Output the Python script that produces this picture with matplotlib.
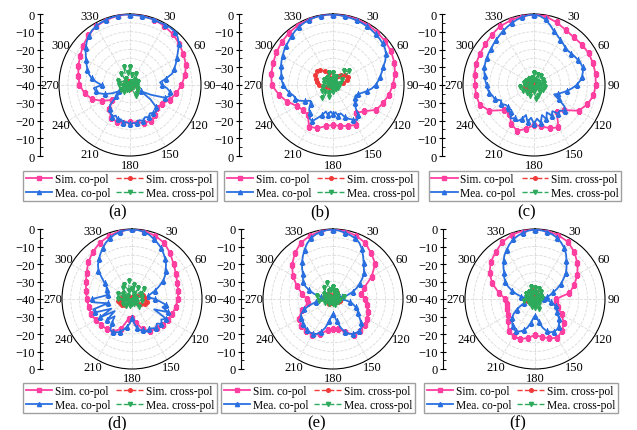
import matplotlib
matplotlib.use("Agg")
import matplotlib.pyplot as plt
import numpy as np
from matplotlib.lines import Line2D
from matplotlib.ticker import FixedLocator, FuncFormatter

plt.rcParams["font.family"] = ["Liberation Serif", "DejaVu Serif"]

# angles (deg) of the sampled points
ANG_10 = list(range(0, 360, 10))
ANG_5 = list(range(0, 360, 5))

# ---- panel (a) ----
SIM_CO_A = [0, -0.3, -0.8, -1.5, -2.5, -3.8, -5.2, -6.5, -8.5, -11, -13.5, -16, -19, -20, -18, -16.5, -17.5, -18.5,
            -19, -18.5, -18, -18.5, -22, -27, -22, -17, -14, -11.5, -10.5, -9, -7.5, -5.5, -3.5, -1.8, -1, -0.3]
MEA_CO_A = [-0.3, -0.6, -0.4, -0.9, -0.6, -1.0, -0.7, -0.5, -0.8, -2.0, -4.0, -7.0, -9.5, -11.5, -13.5, -15.5, -19.5, -23,
            -22, -19, -17, -16.5, -19, -27, -33, -26, -21, -19, -19.5, -20.5, -19, -20, -18.5, -19.5, -18, -18.5,
            -18, -19, -18.5, -20, -19.5, -21, -19.5, -21, -22.5, -24, -30, -36, -33, -29, -25, -22, -20.5, -19.5,
            -24, -21, -18, -16, -14.5, -13, -11.5, -9.5, -7.5, -5.5, -4, -2.5, -1.8, -1.2, -0.8, -0.5, -0.3, -0.2]
SIM_X_A = [-38, -38.5, -39, -39.5, -40, -40, -39.5, -39, -38.5, -38, -38.5, -39, -39.5, -40, -40, -39.5, -39, -38.5,
           -38, -38.5, -39, -39.5, -40, -40, -39.5, -39, -38.5, -38, -37.5, -37, -37.5, -38, -38.5, -38, -37.5, -38]
MEA_X_A = [-30, -34, -38, -33, -39, -36, -38.5, -35, -39, -38, -36, -39, -35, -38, -34, -33, -38, -39,
           -38.5, -37, -39, -37, -35, -38, -34, -39, -36, -34, -38, -33, -37, -39, -32, -36, -29.5, -33]

# ---- panel (b) ----
SIM_CO_B = [0, -0.2, -0.5, -0.8, -1.2, -1.6, -2.2, -3.2, -4.5, -6.3, -8, -10, -12, -17, -19.5, -14, -15.5, -16.5,
            -17.5, -16.5, -14, -13, -18, -18, -16.5, -12.5, -9, -5.5, -4.7, -4, -3.2, -2.3, -1.5, -0.9, -0.5, -0.2]
MEA_CO_B = [-0.3, -0.5, -0.8, -1.0, -1.2, -1.5, -1.8, -2.2, -2.6, -3.0, -3.5, -4.2, -5.5, -7.5, -9.8, -11.5, -13, -14.5,
            -16, -18, -20.5, -23, -25, -26, -25.5, -24.5, -24, -22, -18, -16, -17.5, -19, -21, -23.5, -22.5, -24.5,
            -23.5, -25, -23, -24.5, -22, -19.5, -16.5, -17, -19.5, -21, -23.5, -24.5, -22, -19, -17.5, -17, -15, -13.5,
            -12, -11, -10.5, -9.8, -8.8, -8.0, -7.2, -6.3, -5.5, -4.8, -3.8, -2.8, -2.0, -1.4, -0.9, -0.6, -0.4, -0.3]
SIM_X_B = [-39, -37, -35, -34, -33, -31, -30.5, -31.5, -34, -37, -39, -40, -40, -40, -40, -39.5, -39, -38.5,
           -39, -39.5, -40, -40, -39.5, -38.5, -37.5, -36, -34, -32, -31, -30, -28.5, -28, -29, -31, -33, -36]
MEA_X_B = [-33, -36, -35, -38, -30, -28, -34, -38, -36, -39, -37, -38.5, -37, -39, -37, -38, -38, -39,
           -36, -38, -33, -35, -30.5, -34, -33, -38, -34, -39, -35, -38, -34, -38, -35, -37, -33, -38]

# ---- panel (c) ----
SIM_CO_C = [0, -0.8, -2.5, -4.2, -5, -4.6, -4.4, -4.5, -4.8, -5.2, -6, -8, -11, -18, -20, -12.5, -14, -16.5,
            -17.5, -15, -12.5, -14.5, -18.5, -18, -11, -7.5, -6.8, -6.8, -6, -5.2, -4.8, -4.2, -3, -1.8, -1.3, -0.5]
MEA_CO_C = [-0.3, -1.0, -2.5, -5, -7.5, -9, -10.5, -11.5, -12.5, -12.8, -12.5, -12, -11.5, -11, -10.8, -11.5, -12.5, -14,
            -16, -18.5, -21, -23.5, -25.5, -27.5, -24, -19, -17.5, -19.5, -19, -22, -20, -23, -19.5, -22.5, -18.5, -21,
            -18, -21.5, -19, -22.5, -19.5, -17.5, -18.5, -17, -20, -19, -21, -20.5, -18.5, -19.5, -16.5, -16, -14.5, -13.8,
            -13.3, -12.5, -11.8, -11, -10.2, -9.8, -9.3, -8.8, -8.4, -7.6, -6.8, -6, -5, -4, -3, -2, -1.2, -0.6]
SIM_X_C = [-38, -38.5, -39, -39.5, -40, -40, -40, -40, -39.5, -39, -39.5, -40, -40, -40, -40, -39.5, -39, -38.5,
           -38, -38, -37.5, -37, -36.5, -36, -35.5, -35, -35, -35.5, -36, -36.5, -37, -37.5, -38, -38, -38, -38]
MEA_X_C = [-33, -37, -34, -38, -33.5, -37, -34, -38, -34, -36, -33.5, -38, -34, -37, -34.5, -38, -33.5, -32,
           -36, -38, -33.5, -37, -34, -38, -33, -37, -32, -35, -34.5, -38, -35, -37, -35.5, -38, -36, -37]

# ---- panel (d) ----
SIM_CO_D = [0, -0.5, -1.5, -3, -6, -9, -11, -12.5, -13.3, -13.8, -14.5, -15.5, -16.3, -17, -18, -19, -21.5, -26,
            -29, -28.5, -22, -18.5, -17.5, -17, -16, -15.2, -14.8, -14.2, -13.3, -12, -10, -7.4, -5, -3, -1.6, -0.5]
MEA_CO_D = [-0.2, -0.5, -1, -2, -3.5, -5, -6.5, -8.5, -10.3, -12.5, -15, -17, -19.5, -23, -26, -29, -31, -30,
            -27, -24, -20, -22, -18, -26, -17.5, -19.5, -18, -20, -18.5, -19.5, -20.5, -19.5, -21, -21.5, -23, -26,
            -29, -26, -24, -22, -20, -19, -18, -18.5, -22, -26, -21, -28, -19, -27, -17.5, -17, -26, -18,
            -17, -23, -26, -25, -24.5, -24, -22, -19, -15, -12.5, -10.5, -8.5, -6.5, -4.5, -3, -1.8, -1, -0.5]
SIM_X_D = [-39, -39.5, -40, -40, -39, -37, -35, -33.5, -33, -33, -31.5, -32, -34, -36.5, -38.5, -40, -40, -40,
           -40, -40, -40, -39, -37, -35, -33.5, -32.5, -32, -33, -34, -36, -38, -39.5, -40, -40, -40, -39.5]
MEA_X_D = [-34, -32, -37, -33, -38, -31, -34, -38, -34, -38, -34, -38, -37, -39, -34, -38, -37, -39,
           -37, -39, -36, -38, -35, -38, -34, -37, -35, -32, -36, -31.5, -34, -37, -32, -30.5, -35, -29.5]

# ---- panel (e) ----
SIM_CO_E = [0, -0.5, -1.5, -3, -6, -8.5, -14.5, -21, -23.5, -21.5, -20.5, -19, -17.5, -16.5, -16, -16.5, -20, -22.5,
            -23, -22, -18.5, -16.5, -16, -16.3, -17.5, -21, -25.5, -25, -22, -18, -13.5, -9.5, -6, -3, -1.5, -0.5]
MEA_CO_E = [-0.3, -0.8, -1.5, -2.2, -3, -4.5, -7, -10, -12.8, -15, -17, -19.5, -22.5, -25, -28, -31.5, -35, -37,
            -36, -33, -30, -28, -26, -24.5, -23.5, -21.5, -19, -17, -16.5, -16.5, -17, -18, -20, -23, -27, -30,
            -31.5, -30, -27, -23, -20, -18, -17, -16.8, -17, -17.3, -17.8, -18.2, -18.8, -20, -22.5, -26, -30, -34,
            -37, -36, -33, -29, -25.5, -22.5, -20.5, -19, -17.5, -15, -12.5, -10, -7.5, -5, -3, -1.8, -1, -0.5]
SIM_X_E = [-38, -37, -36, -35.5, -36, -37.5, -39, -40, -40, -39, -37, -36, -36.5, -38, -39.5, -40, -40, -40,
           -40, -40, -39, -37.5, -36.5, -37, -38.5, -40, -40, -39, -37, -35.5, -35, -35.5, -36.5, -38, -39, -38.5]
MEA_X_E = [-33, -36, -35, -38, -36, -39, -37, -38, -33.5, -37, -36, -39, -37, -38, -38, -39, -36.5, -38,
           -37, -39, -37.5, -38, -36, -37, -35, -38, -32, -36, -31, -35, -34, -38, -32, -35, -30.5, -35]

# ---- panel (f) ----
SIM_CO_F = [0, -0.4, -1.2, -2.3, -5, -8.3, -12, -16, -20, -28, -28, -26, -22.5, -18.5, -16, -14.5, -16, -18,
            -19.4, -17.5, -15.5, -15.5, -16.5, -20, -22, -23, -23.5, -23, -19, -14, -10, -7, -5, -2.5, -1, -0.3]
MEA_CO_F = [-0.3, -0.6, -1, -1.8, -2.8, -4.5, -6.5, -9, -12, -14.5, -17, -20.2, -23, -26, -29, -31, -33, -34.5,
            -35, -33.5, -31, -29, -27.5, -26.5, -25.5, -24, -22, -20.5, -19, -18.5, -18.5, -19, -20.5, -23, -26.5, -29.5,
            -30.5, -29, -26, -23, -21, -19.5, -18.7, -18.8, -20, -21.5, -22.8, -25, -28, -31, -33.5, -35, -36, -36.5,
            -36, -34.5, -32, -29, -26, -23, -20.5, -18.5, -17, -14.5, -12, -9.5, -7.5, -5.5, -3.8, -2.5, -1.5, -0.7]
SIM_X_F = [-35.5, -36, -37, -38.5, -39.5, -40, -40, -40, -39.5, -39, -39.5, -40, -40, -40, -40, -40, -39.5, -39,
           -39, -39, -39.5, -40, -39.5, -38.5, -37, -36, -35.5, -36, -37.5, -38.5, -39, -38.5, -37.5, -36.5, -35.5, -35]
MEA_X_F = [-33.5, -37, -34, -38, -35, -38, -36, -38.5, -36, -38, -37, -39, -38, -39, -36, -38, -34, -37,
           -35, -38, -35, -38, -36, -38, -36, -38, -33.5, -37, -35, -38, -34, -37, -34.5, -37, -32.5, -36]

LEGEND_LABELS = ["Sim. co-pol", "Mea. co-pol", "Sim. cross-pol", "Mea. cross-pol"]
LEGEND_LABELS_C = ["Sim. co-pol", "Mea. co-pol", "Sim. cross-pol", "Mes. cross-pol"]
ANGLE_LABELS = ["", "30", "60", "90", "120", "150", "180", "210", "240", "270", "300", "330"]

PINK = "#ff3fa0"
BLUE = "#2a6fe0"
RED = "#f03a3a"
GREEN = "#2eaa5c"

W, H = 637, 431
fig = plt.figure(figsize=(W / 100, H / 100), dpi=100)


def closed(angles, values):
    a = np.deg2rad(np.append(angles, 360))
    v = np.clip(np.append(values, values[0]), -40, 0)
    return a, v


def db_label(v, _pos):
    val = int(round(abs(v) - 40))
    return "0" if val == 0 else f"\u2212{abs(val)}"


def draw_panel(cx, cy, radius, axis_x, sim_co, mea_co, sim_x, mea_x, labels, leg_xy, tag, tag_xy):
    rect = [(cx - radius) / W, (H - cy - radius) / H, 2 * radius / W, 2 * radius / H]
    ax = fig.add_axes(rect, projection="polar")
    ax.set_theta_zero_location("N")
    ax.set_theta_direction(-1)
    ax.set_ylim(-40, 0)
    ax.set_yticks(np.arange(-35, 0, 5))
    ax.set_yticklabels([])
    ax.set_xticks(np.deg2rad(np.arange(0, 360, 30)))
    ax.set_xticklabels(ANGLE_LABELS, fontsize=9)
    ax.tick_params(axis="x", pad=-4)
    ax.grid(color="#dadada", linestyle="--", linewidth=0.6)
    ax.spines["polar"].set_linewidth(0.8)

    ax.plot(*closed(ANG_10, sim_co), color=PINK, lw=1.3, marker="s", ms=3.2, zorder=3)
    ax.plot(*closed(ANG_5, mea_co), color=BLUE, lw=1.3, marker="^", ms=3.2, markevery=2, zorder=4)
    ax.plot(*closed(ANG_10, sim_x), color=RED, lw=1.0, ls="--", marker="o", ms=2.6, zorder=5)
    ax.plot(*closed(ANG_10, mea_x), color=GREEN, lw=0.9, ls="--", marker="v", ms=2.8, zorder=6)

    # left dB scale, 0 at top and bottom, -40 at the centre
    axl = fig.add_axes([axis_x / W, (H - cy - radius) / H, 0.0001, 2 * radius / H])
    for side in ("top", "right", "bottom"):
        axl.spines[side].set_visible(False)
    axl.spines["left"].set_linewidth(0.8)
    axl.set_xticks([])
    axl.set_ylim(-40, 40)
    axl.yaxis.set_major_locator(FixedLocator(np.arange(-40, 41, 10)))
    axl.yaxis.set_minor_locator(FixedLocator(np.arange(-35, 40, 10)))
    axl.yaxis.set_major_formatter(FuncFormatter(db_label))
    axl.tick_params(axis="y", which="major", direction="inout", length=5, width=0.8, labelsize=9, pad=1)
    axl.tick_params(axis="y", which="minor", direction="in", length=2.5, width=0.6)

    handles = [
        Line2D([], [], color=PINK, lw=1.3, marker="s", ms=3),
        Line2D([], [], color=BLUE, lw=1.3, marker="^", ms=3),
        Line2D([], [], color=RED, lw=1.0, ls="--", marker="o", ms=2.6),
        Line2D([], [], color=GREEN, lw=1.0, ls="--", marker="v", ms=3),
    ]
    fig.legend(handles, labels, ncol=2, loc="center",
               bbox_to_anchor=(leg_xy[0] / W, 1 - leg_xy[1] / H),
               fontsize=8.3, frameon=True, fancybox=False, edgecolor="#a0a0a0",
               framealpha=1, borderpad=0.2, labelspacing=0.2, handlelength=2.3,
               handletextpad=0.25, columnspacing=0.5, borderaxespad=0)
    fig.text(tag_xy[0] / W, 1 - tag_xy[1] / H, tag, ha="center", va="center", fontsize=12)


draw_panel(130, 86, 71, 40, SIM_CO_A, MEA_CO_A, SIM_X_A, MEA_X_A, LEGEND_LABELS, (120, 187), "(a)", (118, 212))
draw_panel(333, 86, 71, 239, SIM_CO_B, MEA_CO_B, SIM_X_B, MEA_X_B, LEGEND_LABELS, (321, 187), "(b)", (320, 212))
draw_panel(534, 86, 71, 442, SIM_CO_C, MEA_CO_C, SIM_X_C, MEA_X_C, LEGEND_LABELS_C, (525, 187), "(c)", (527, 212))
draw_panel(132, 300, 70, 40, SIM_CO_D, MEA_CO_D, SIM_X_D, MEA_X_D, LEGEND_LABELS, (120, 399), "(d)", (117, 423))
draw_panel(333, 300, 70, 241, SIM_CO_E, MEA_CO_E, SIM_X_E, MEA_X_E, LEGEND_LABELS, (318, 399), "(e)", (317, 423))
draw_panel(535, 300, 70, 443, SIM_CO_F, MEA_CO_F, SIM_X_F, MEA_X_F, LEGEND_LABELS, (521, 399), "(f)", (518, 423))

fig.savefig("out.png", dpi=100)
